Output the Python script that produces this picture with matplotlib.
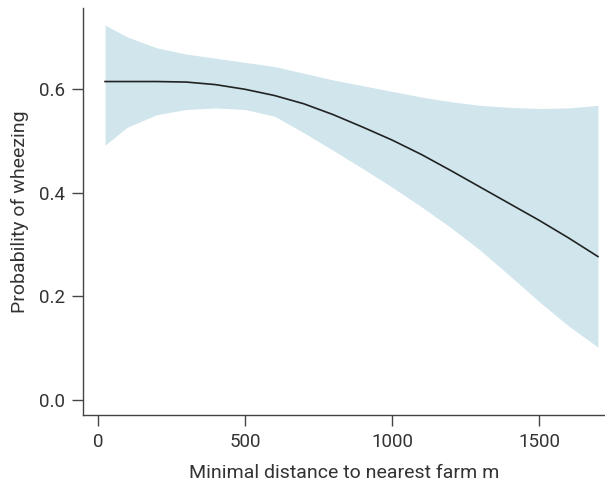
import matplotlib
matplotlib.use("Agg")
import matplotlib.pyplot as plt

distance = [24, 100, 200, 300, 400, 500, 600, 700, 800, 900, 1000, 1100, 1200, 1300, 1400, 1500, 1600, 1700]
prob = [0.615, 0.615, 0.615, 0.614, 0.609, 0.600, 0.588, 0.572, 0.551, 0.527, 0.502, 0.474, 0.443, 0.411, 0.379, 0.347, 0.313, 0.277]
upper = [0.724, 0.701, 0.680, 0.668, 0.660, 0.652, 0.644, 0.631, 0.618, 0.607, 0.596, 0.585, 0.576, 0.569, 0.565, 0.563, 0.564, 0.569]
lower = [0.492, 0.527, 0.551, 0.561, 0.564, 0.561, 0.548, 0.516, 0.482, 0.447, 0.411, 0.373, 0.333, 0.289, 0.240, 0.190, 0.143, 0.102]

xticks = [0, 500, 1000, 1500]
yticks = [0.0, 0.2, 0.4, 0.6]

plt.rcParams['font.family'] = ['Roboto', 'DejaVu Sans']
fig = plt.figure(figsize=(6.05, 4.88), dpi=100)
ax = fig.add_axes([83/605, 73/488, 1 - 83/605, (415-8)/488])

ax.fill_between(distance, lower, upper, color='#d0e6ec', linewidth=0)
ax.plot(distance, prob, color='#222222', linewidth=1.2, solid_joinstyle='round')

ax.set_xlim(-51, 1724)
ax.set_ylim(-0.029, 0.757)
ax.set_xticks(xticks)
ax.set_xticklabels([str(t) for t in xticks])
ax.set_yticks(yticks)
ax.set_yticklabels([f"{t:.1f}" for t in yticks])

for s in ['top', 'right']:
    ax.spines[s].set_visible(False)
for s in ['left', 'bottom']:
    ax.spines[s].set_color('#444444')
    ax.spines[s].set_linewidth(1.0)
ax.tick_params(colors='#444444', labelcolor='#333333', labelsize=13.5, length=8, width=1.0, pad=5)

ax.set_xlabel('Minimal distance to nearest farm m', fontsize=14, color='#333333', labelpad=9)
ax.set_ylabel('Probability of wheezing', fontsize=14, color='#333333', labelpad=7)

fig.savefig('out.png', dpi=100)
